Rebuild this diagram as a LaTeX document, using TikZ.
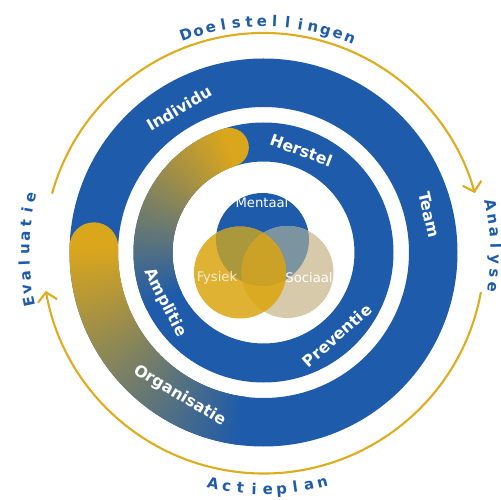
\documentclass[tikz,border=0pt]{standalone}
\usepackage{fontspec}
\setmainfont{DejaVu Sans}
\usetikzlibrary{arrows.meta}

\definecolor{ringblue}{RGB}{30,91,170}
\definecolor{ringgold}{RGB}{218,166,28}
\definecolor{arcgold}{RGB}{222,172,30}
\definecolor{vennbeige}{RGB}{214,202,170}
\definecolor{venngold}{RGB}{224,178,52}

\tikzset{
  ringlbl/.style={text=white, font=\bfseries\fontsize{9}{11}\selectfont, inner sep=0pt},
  outerlbl/.style={text=ringblue, font=\bfseries\fontsize{8.5}{10}\selectfont, inner sep=0pt, anchor=base},
  vennlbl/.style={font=\fontsize{7.5}{8}\selectfont, inner sep=0pt},
  cyclearc/.style={draw=arcgold, line width=1.2pt}
}

\begin{document}
\begin{tikzpicture}[x=0.02cm, y=0.02cm, line cap=round, line join=round, >={Straight Barb[length=5pt,width=11pt]}]
\useasboundingbox (-263.5,-247.5) rectangle (236.5,252.5);

% the two rings
\fill[ringblue, even odd rule] (0,0) circle (194) (0,0) circle (145.5);
\fill[ringblue, even odd rule] (0,0) circle (130) (0,0) circle (91);

% gold to blue band, outer ring
\fill[ringgold] (178:169.75) circle (24.25);
\foreach \a in {178,...,262}{
  \pgfmathsetmacro{\p}{100*(262-\a)/84}
  \draw[line width=0.97cm, line cap=butt, color=ringgold!\p!ringblue] (\a:169.75) arc (\a:\a+1.5:169.75);
}

% gold to blue band, middle ring
\fill[ringgold] (108:110.5) circle (19.5);
\foreach \a in {108,...,205}{
  \pgfmathsetmacro{\p}{100*(205-\a)/97}
  \draw[line width=0.78cm, line cap=butt, color=ringgold!\p!ringblue] (\a:110.5) arc (\a:\a+1.5:110.5);
}

% venn
\fill[ringblue] (-1,13) circle (46.5);
\fill[vennbeige] (24,-19.5) circle (46);
\fill[venngold] (-23.5,-20) circle (46);
\begin{scope}
\clip (-1,13) circle (46.5);
\fill[color={rgb,255:red,124;green,148;blue,160}] (24,-19.5) circle (46);
\fill[color={rgb,255:red,172;green,152;blue,60}] (-23.5,-20) circle (46);
\end{scope}
\begin{scope}
\clip (24,-19.5) circle (46);
\fill[color={rgb,255:red,218;green,170;blue,34}] (-23.5,-20) circle (46);
\clip (-1,13) circle (46.5);
\fill[color={rgb,255:red,204;green,162;blue,38}] (-23.5,-20) circle (46);
\end{scope}

\node[vennlbl, text=white] (mentaal) at (-1.5,49.5) {Mentaal};
\node[vennlbl, text={rgb,255:red,246;green,236;blue,206}] (fysiek) at (-46.5,-25.5) {Fysiek};
\node[vennlbl, text=white] (sociaal) at (45.5,-25.5) {Sociaal};

% ring labels
\node[ringlbl, rotate=30.4] (individu) at (120.4:167) {Individu};
\node[ringlbl, rotate=-77.2] (team) at (12.8:170) {Team};
\node[ringlbl, rotate=-30.4] (organisatie) at (239.6:166) {Organisatie};
\node[ringlbl, rotate=-20.3] (herstel) at (69.7:109) {Herstel};
\node[ringlbl, rotate=41.4] (preventie) at (-48.6:111) {Preventie};
\node[ringlbl, rotate=-63] (amplitie) at (207:110.5) {Amplitie};

% cycle arrows
\draw[cyclearc, ->] (164.3:219.5) arc (164.3:15.7:219.5);
\draw[cyclearc, ->] (-10.5:221) arc (-10.5:-170:221);

% outer words, letter by letter
\foreach \ch [count=\i, evaluate=\i as \ang using {112.8-3.2*\i}] in {D,o,e,l,s,t,e,l,l,i,n,g,e,n}
  \node[outerlbl, rotate=\ang-90] (doel-\i) at (\ang:226) {\ch};
\foreach \ch [count=\i, evaluate=\i as \ang using {15.2-3.4*\i}] in {A,n,a,l,y,s,e}
  \node[outerlbl, rotate=\ang-90] (anal-\i) at (\ang:227) {\ch};
\foreach \ch [count=\i, evaluate=\i as \ang using {-105.6+3.33*\i}] in {A,c,t,i,e,p,l,a,n}
  \node[outerlbl, rotate=\ang+90] (actie-\i) at (\ang:242) {\ch};
\foreach \ch [count=\i, evaluate=\i as \ang using {195.1-3.16*\i}] in {E,v,a,l,u,a,t,i,e}
  \node[outerlbl, rotate=\ang-90] (eval-\i) at (\ang:234) {\ch};

\end{tikzpicture}
\end{document}
